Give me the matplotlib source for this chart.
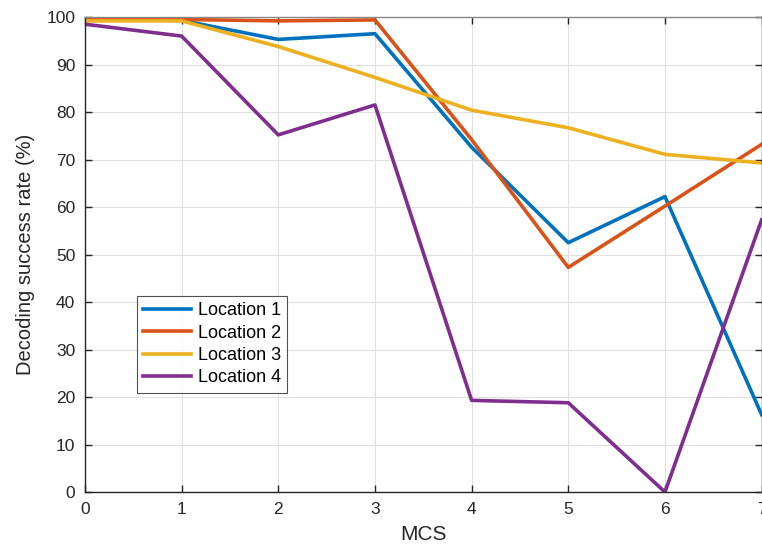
import matplotlib.pyplot as plt

plt.rcParams['font.family'] = ['Liberation Sans', 'DejaVu Sans']

# MCS index
mcs = [0, 1, 2, 3, 4, 5, 6, 7]

# Decoding success rate (%) per location
loc1 = [99.5, 99.3, 95.3, 96.5, 72.6, 52.5, 62.2, 16.3]
loc2 = [99.8, 99.5, 99.2, 99.4, 74.2, 47.3, 60.2, 73.2]
loc3 = [99.2, 99.2, 93.8, 87.3, 80.4, 76.7, 71.1, 69.3]
loc4 = [98.5, 96.0, 75.2, 81.5, 19.3, 18.8, 0.0, 57.3]

labels = ['Location 1', 'Location 2', 'Location 3', 'Location 4']
colors = ['#0072BD', '#D95319', '#EDB120', '#7E2F8E']

fig = plt.figure(figsize=(7.62, 5.51), dpi=100)
ax = fig.add_axes([0.1115, 0.107, 0.888, 0.862])

for y, lab, c in zip([loc1, loc2, loc3, loc4], labels, colors):
    ax.plot(mcs, y, color=c, linewidth=2.6, label=lab)

ax.set_xlim(0, 7)
ax.set_ylim(0, 100)
ax.set_xticks(mcs)
ax.set_yticks(range(0, 101, 10))
ax.grid(True, color='#e0e0e0', linewidth=0.8)
ax.set_axisbelow(True)

ax.tick_params(direction='in', top=True, right=True, length=5, width=1,
               labelsize=12.5, colors='#262626', pad=7)
for s in ax.spines.values():
    s.set_color('#262626')
    s.set_linewidth(1)
ax.spines['top'].set_color('#888888')

ax.set_xlabel('MCS', fontsize=15, color='#262626', labelpad=6)
ax.set_ylabel('Decoding success rate (%)', fontsize=14.5, color='#262626', labelpad=8)

leg = ax.legend(loc='upper left', bbox_to_anchor=(0.077, 0.413), fontsize=13,
                frameon=True, fancybox=False, edgecolor='#262626',
                handlelength=2.65, borderaxespad=0, labelspacing=0.3,
                borderpad=0.35, handletextpad=0.35)
leg.get_frame().set_linewidth(0.8)

plt.savefig('out.png', dpi=100)
